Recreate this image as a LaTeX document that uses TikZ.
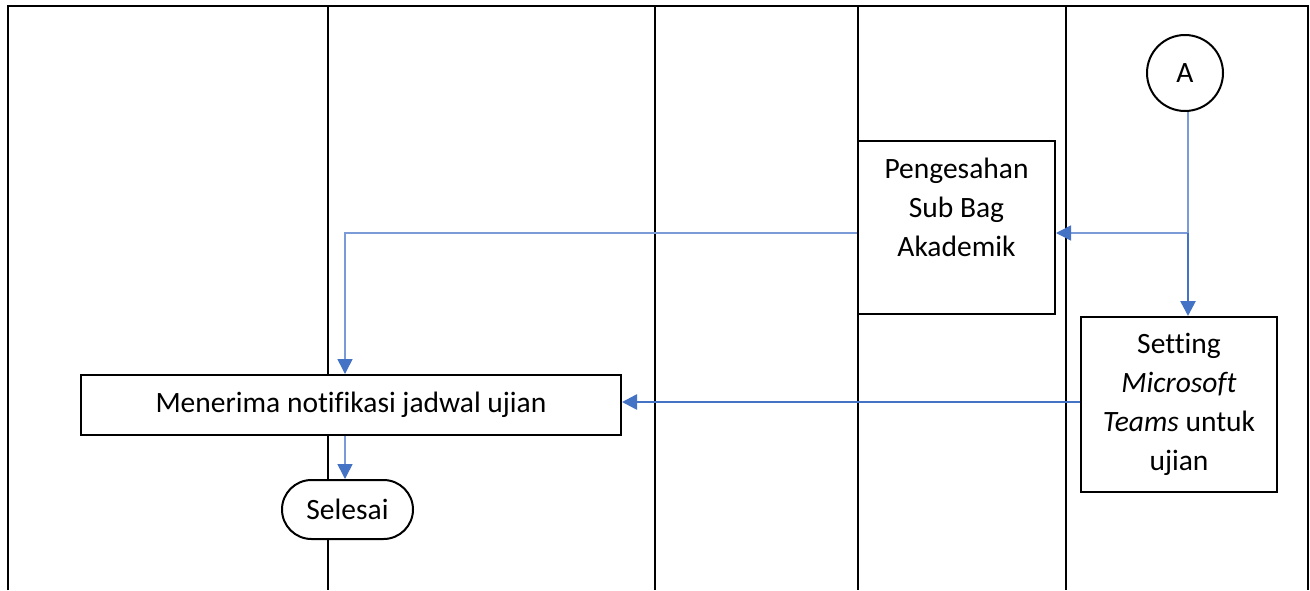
\documentclass[tikz,border=0pt]{standalone}
\usepackage{fontspec}
\setmainfont[Ligatures={NoCommon}]{Carlito}
\usetikzlibrary{arrows.meta,shapes.misc}
\definecolor{lineblue}{HTML}{7A9AD8}
\definecolor{headblue}{HTML}{4472C4}
\begin{document}
\begin{tikzpicture}[x=1pt,y=-1pt,
  lane/.style={draw=black,line width=2pt},
  txt/.style={font=\fontsize{29.5}{39}\selectfont},
  box/.style={draw=black,line width=2pt,fill=white,inner sep=0pt,align=center,txt},
  thinflow/.style={draw=lineblue,line width=1.6pt,-{Triangle[length=15pt,width=15pt,color=headblue]}},
  thickflow/.style={draw=headblue,line width=2.6pt,-{Triangle[length=15pt,width=15pt]}},
  thinline/.style={draw=lineblue,line width=1.6pt}]
\useasboundingbox (0,0) rectangle (1310,590);
% swimlane frame
\draw[lane] (8,590) -- (8,6) -- (1308,6) -- (1308,590);
\foreach \xx in {328,655,858,1066}{\draw[lane] (\xx,6) -- (\xx,590);}
% nodes
\node[box,circle,minimum size=76pt] (A) at (1185,73) {A};
\node[box,minimum width=197pt,minimum height=173pt] (peng) at (956.5,227.5) {};
\node[txt,align=center,anchor=north,inner sep=0pt] (pengt) at (956.5,158) {Pengesahan\\Sub Bag\\Akademik};
\node[box,minimum width=196pt,minimum height=175pt] (set) at (1179,404.5)
  {Setting\\\textit{Microsoft}\\\textit{Teams} untuk\\ujian};
\node[box,minimum width=540pt,minimum height=60pt] (men) at (351,405) {Menerima notifikasi jadwal ujian};
\node[box,rounded rectangle,minimum width=131pt,minimum height=59pt] (sel) at (347.5,509.5) {Selesai};
\coordinate (j) at (1188,233);
\coordinate (k) at (345,233);
% connectors
\draw[thinline] (A.south -| j) -- (j);
\draw[thinflow] (j) -- (j -| peng.east);
\draw[thickflow] (j) -- (j |- set.north);
\draw[thinflow] (k -| peng.west) -- (k) -- (k |- men.north);
\draw[thickflow] (set.west |- 0,402) -- (men.east |- 0,402);
\draw[thinflow] (men.south -| k) -- (sel.north -| k);
\end{tikzpicture}
\end{document}
